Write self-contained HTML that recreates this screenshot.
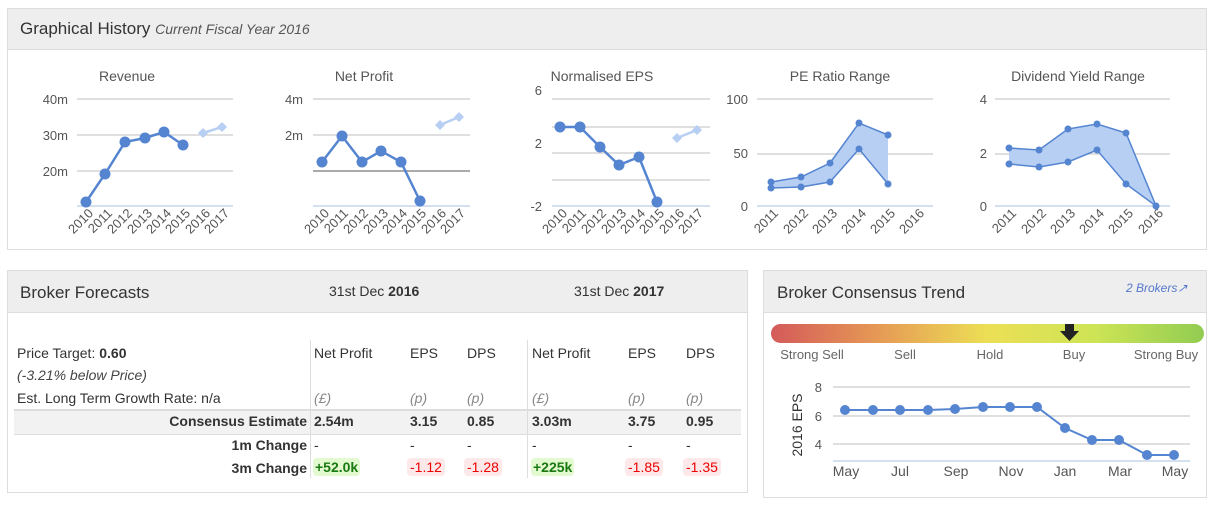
<!DOCTYPE html>
<html><head><meta charset="utf-8"><style>
body{margin:0;width:1214px;height:507px;background:#fff;font-family:"Liberation Sans",sans-serif;color:#333;position:relative;overflow:hidden}
.box{position:absolute;border:1px solid #ddd;box-sizing:border-box}
.hd{position:absolute;background:#eee;border-bottom:1px solid #ddd}
.t{position:absolute;white-space:nowrap;font-size:14px}
.b{font-weight:bold}
.i{font-style:italic;color:#444}
.g{background:#e3f9cf;color:#1a7a12;font-weight:bold;padding:1px 2px;border-radius:4px}
.r{background:#fde9e9;color:#e00;padding:1px 3px;border-radius:4px}
</style></head><body>
<div class="box" style="left:7px;top:8px;width:1200px;height:242px"></div>
<div class="hd" style="left:8px;top:9px;width:1198px;height:40px"></div>
<div class="t" style="left:20px;top:19px;font-size:17px;color:#333">Graphical History <span style="font-size:14px;font-style:italic;color:#555">Current Fiscal Year 2016</span></div>

<div class="box" style="left:7px;top:270px;width:741px;height:223px"></div>
<div class="hd" style="left:8px;top:271px;width:739px;height:41px"></div>
<div class="t" style="left:20px;top:283px;font-size:17px">Broker Forecasts</div>
<div class="t" style="left:329px;top:283px;">31st Dec <b>2016</b></div>
<div class="t" style="left:574px;top:283px;">31st Dec <b>2017</b></div>

<div class="box" style="left:763px;top:270px;width:444px;height:228px"></div>
<div class="hd" style="left:764px;top:271px;width:442px;height:41px"></div>
<div class="t" style="left:777px;top:283px;font-size:17px">Broker Consensus Trend</div>
<div class="t" style="left:1126px;top:281px;font-size:12px;font-style:italic;color:#5577cc">2 Brokers&#x2197;</div>

<div style="position:absolute;left:14px;top:409px;width:727px;height:23px;background:#f2f2f2;border-top:2px solid #ddd;border-bottom:1px solid #ddd"></div>
<div style="position:absolute;left:310px;top:340px;width:1px;height:138px;background:#ddd"></div>
<div style="position:absolute;left:527px;top:340px;width:1px;height:138px;background:#ddd"></div>
<div class="t" style="left:17px;top:345px">Price Target: <b>0.60</b></div>
<div class="t i" style="left:17px;top:367px">(-3.21% below Price)</div>
<div class="t" style="left:17px;top:390px">Est. Long Term Growth Rate: n/a</div>
<div class="t b" style="right:907px;top:413px">Consensus Estimate</div>
<div class="t b" style="right:907px;top:437px">1m Change</div>
<div class="t b" style="right:907px;top:460px">3m Change</div>
<div class="t" style="left:314px;top:345px">Net Profit</div><div class="t" style="left:410px;top:345px">EPS</div><div class="t" style="left:467px;top:345px">DPS</div>
<div class="t" style="left:532px;top:345px">Net Profit</div><div class="t" style="left:628px;top:345px">EPS</div><div class="t" style="left:686px;top:345px">DPS</div>
<div class="t i" style="left:314px;top:390px;color:#888">(£)</div><div class="t i" style="left:410px;top:390px;color:#888">(p)</div><div class="t i" style="left:467px;top:390px;color:#888">(p)</div>
<div class="t i" style="left:532px;top:390px;color:#888">(£)</div><div class="t i" style="left:628px;top:390px;color:#888">(p)</div><div class="t i" style="left:686px;top:390px;color:#888">(p)</div>
<div class="t b" style="left:314px;top:413px">2.54m</div><div class="t b" style="left:410px;top:413px">3.15</div><div class="t b" style="left:467px;top:413px">0.85</div>
<div class="t b" style="left:532px;top:413px">3.03m</div><div class="t b" style="left:628px;top:413px">3.75</div><div class="t b" style="left:686px;top:413px">0.95</div>
<div class="t" style="left:314px;top:437px">-</div><div class="t" style="left:410px;top:437px">-</div><div class="t" style="left:467px;top:437px">-</div>
<div class="t" style="left:532px;top:437px">-</div><div class="t" style="left:628px;top:437px">-</div><div class="t" style="left:686px;top:437px">-</div>
<div class="t" style="left:313px;top:459px"><span class="g">+52.0k</span></div><div class="t" style="left:407px;top:459px"><span class="r">-1.12</span></div><div class="t" style="left:464px;top:459px"><span class="r">-1.28</span></div>
<div class="t" style="left:531px;top:459px"><span class="g">+225k</span></div><div class="t" style="left:625px;top:459px"><span class="r">-1.85</span></div><div class="t" style="left:683px;top:459px"><span class="r">-1.35</span></div>

<svg width="1214" height="507" style="position:absolute;left:0;top:0" font-family="Liberation Sans, sans-serif" font-size="13" fill="#555">
<defs><linearGradient id="gr" x1="0" x2="1"><stop offset="0" stop-color="#d45a5a"/><stop offset="0.25" stop-color="#e69a55"/><stop offset="0.5" stop-color="#ecdf55"/><stop offset="0.75" stop-color="#cde455"/><stop offset="1" stop-color="#92cc52"/></linearGradient></defs>
<g stroke="#ccc" stroke-width="1.3">
<path d="M77 99H233M77 135H233M77 171H233"/>
<path d="M313 99H470M313 135H470"/>
<path d="M552 99H710M552 127H710M552 153H710M552 180H710"/>
<path d="M757 99H933M757 154H933"/>
<path d="M995 99H1170M995 154H1170"/>
<path d="M833 387H1190M833 416H1190M833 444H1190"/>
</g>
<path d="M313 171H470" stroke="#aaa" stroke-width="2"/>
<g stroke="#c5d6ea" stroke-width="1.5">
<path d="M77 206H233M313 206H470M552 206H710M757 206H933M995 206H1170M833 461H1190"/>
</g>
<g font-size="14" fill="#555" text-anchor="middle">
<text x="127" y="81">Revenue</text><text x="364" y="81">Net Profit</text><text x="602" y="81">Normalised EPS</text><text x="840" y="81">PE Ratio Range</text><text x="1078" y="81">Dividend Yield Range</text>
</g>
<g text-anchor="end">
<text x="68" y="104">40m</text><text x="68" y="140">30m</text><text x="68" y="176">20m</text>
<text x="303" y="104">4m</text><text x="303" y="140">2m</text>
<text x="542" y="95">6</text><text x="542" y="148">2</text><text x="542" y="211">-2</text>
<text x="748" y="104">100</text><text x="748" y="158">50</text><text x="748" y="211">0</text>
<text x="987" y="104">4</text><text x="987" y="158">2</text><text x="987" y="211">0</text>
<text x="822" y="392">8</text><text x="822" y="421">6</text><text x="822" y="449">4</text>
</g>
<g text-anchor="end" font-size="13">
<g id="yr8a">
<text transform="translate(94,214) rotate(-45)">2010</text><text transform="translate(113,214) rotate(-45)">2011</text><text transform="translate(133,214) rotate(-45)">2012</text><text transform="translate(153,214) rotate(-45)">2013</text><text transform="translate(172,214) rotate(-45)">2014</text><text transform="translate(191,214) rotate(-45)">2015</text><text transform="translate(211,214) rotate(-45)">2016</text><text transform="translate(230,214) rotate(-45)">2017</text>
</g>
<use href="#yr8a" x="236"/><use href="#yr8a" x="474"/>
<text transform="translate(779,214) rotate(-45)">2011</text><text transform="translate(809,214) rotate(-45)">2012</text><text transform="translate(838,214) rotate(-45)">2013</text><text transform="translate(867,214) rotate(-45)">2014</text><text transform="translate(896,214) rotate(-45)">2015</text><text transform="translate(925,214) rotate(-45)">2016</text>
<text transform="translate(1017,214) rotate(-45)">2011</text><text transform="translate(1047,214) rotate(-45)">2012</text><text transform="translate(1076,214) rotate(-45)">2013</text><text transform="translate(1105,214) rotate(-45)">2014</text><text transform="translate(1134,214) rotate(-45)">2015</text><text transform="translate(1164,214) rotate(-45)">2016</text>
</g>
<g fill="none" stroke="#5585d0" stroke-width="2.5">
<path d="M86 202L105 174L125 142L145 138L164 132L183 145"/>
<path d="M322 162L342 136L362 162L381 151L401 162L420 201"/>
<path d="M560 127L580 127L600 147L619 165L639 157L657 202"/>
<path d="M845 410L873 410L900 410L928 410L955 409L983 407L1010 407L1037 407L1065 428L1092 440L1119 440L1147 455L1174 455" stroke-width="2"/>
</g>
<g fill="none" stroke="#b7cff3" stroke-width="2.5">
<path d="M203 133L222 127M440 125L459 117M677 138L697 130"/>
</g>
<g fill="#5585d0">
<circle cx="86" cy="202" r="5.5"/><circle cx="105" cy="174" r="5.5"/><circle cx="125" cy="142" r="5.5"/><circle cx="145" cy="138" r="5.5"/><circle cx="164" cy="132" r="5.5"/><circle cx="183" cy="145" r="5.5"/>
<circle cx="322" cy="162" r="5.5"/><circle cx="342" cy="136" r="5.5"/><circle cx="362" cy="162" r="5.5"/><circle cx="381" cy="151" r="5.5"/><circle cx="401" cy="162" r="5.5"/><circle cx="420" cy="201" r="5.5"/>
<circle cx="560" cy="127" r="5.5"/><circle cx="580" cy="127" r="5.5"/><circle cx="600" cy="147" r="5.5"/><circle cx="619" cy="165" r="5.5"/><circle cx="639" cy="157" r="5.5"/><circle cx="657" cy="202" r="5.5"/>
</g>
<g fill="#b7cff3">
<path d="M203 128l5 5-5 5-5-5zM222 122l5 5-5 5-5-5zM440 120l5 5-5 5-5-5zM459 112l5 5-5 5-5-5zM677 133l5 5-5 5-5-5zM697 125l5 5-5 5-5-5z"/>
</g>
<path d="M771 182L801 177L830 163L859 123L888 135L888 184L859 149L830 182L801 187L771 188Z" fill="#b7cff3" stroke="none"/>
<path d="M771 182L801 177L830 163L859 123L888 135M888 184L859 149L830 182L801 187L771 188" fill="none" stroke="#5585d0" stroke-width="1.5"/>
<path d="M1009 148L1039 150L1068 129L1097 124L1126 133L1156 206L1126 184L1097 150L1068 162L1039 167L1009 164Z" fill="#b7cff3"/>
<path d="M1009 148L1039 150L1068 129L1097 124L1126 133L1156 206L1126 184L1097 150L1068 162L1039 167L1009 164" fill="none" stroke="#5585d0" stroke-width="1.5"/>
<g fill="#5585d0">
<circle cx="771" cy="182" r="3.5"/><circle cx="801" cy="177" r="3.5"/><circle cx="830" cy="163" r="3.5"/><circle cx="859" cy="123" r="3.5"/><circle cx="888" cy="135" r="3.5"/>
<circle cx="771" cy="188" r="3.5"/><circle cx="801" cy="187" r="3.5"/><circle cx="830" cy="182" r="3.5"/><circle cx="859" cy="149" r="3.5"/><circle cx="888" cy="184" r="3.5"/>
<circle cx="1009" cy="148" r="3.5"/><circle cx="1039" cy="150" r="3.5"/><circle cx="1068" cy="129" r="3.5"/><circle cx="1097" cy="124" r="3.5"/><circle cx="1126" cy="133" r="3.5"/><circle cx="1156" cy="206" r="3.5"/>
<circle cx="1009" cy="164" r="3.5"/><circle cx="1039" cy="167" r="3.5"/><circle cx="1068" cy="162" r="3.5"/><circle cx="1097" cy="150" r="3.5"/><circle cx="1126" cy="184" r="3.5"/>
<circle cx="845" cy="410" r="5"/><circle cx="873" cy="410" r="5"/><circle cx="900" cy="410" r="5"/><circle cx="928" cy="410" r="5"/><circle cx="955" cy="409" r="5"/><circle cx="983" cy="407" r="5"/><circle cx="1010" cy="407" r="5"/><circle cx="1037" cy="407" r="5"/><circle cx="1065" cy="428" r="5"/><circle cx="1092" cy="440" r="5"/><circle cx="1119" cy="440" r="5"/><circle cx="1147" cy="455" r="5"/><circle cx="1174" cy="455" r="5"/>
</g>
<rect x="771" y="324" width="433" height="19" rx="9.5" fill="url(#gr)"/>
<path d="M1065 324h9v7h5l-9.5 10-9.5-10h5z" fill="#222"/>
<g font-size="13" fill="#666" text-anchor="middle">
<text x="812" y="359">Strong Sell</text><text x="905" y="359">Sell</text><text x="990" y="359">Hold</text><text x="1074" y="359">Buy</text><text x="1166" y="359">Strong Buy</text>
</g>
<g font-size="14" fill="#555" text-anchor="middle">
<text x="846" y="476">May</text><text x="900" y="476">Jul</text><text x="956" y="476">Sep</text><text x="1011" y="476">Nov</text><text x="1065" y="476">Jan</text><text x="1120" y="476">Mar</text><text x="1175" y="476">May</text>
</g>
<text transform="translate(802,425) rotate(-90)" text-anchor="middle" font-size="14" fill="#333">2016 EPS</text>
</svg>
</body></html>
